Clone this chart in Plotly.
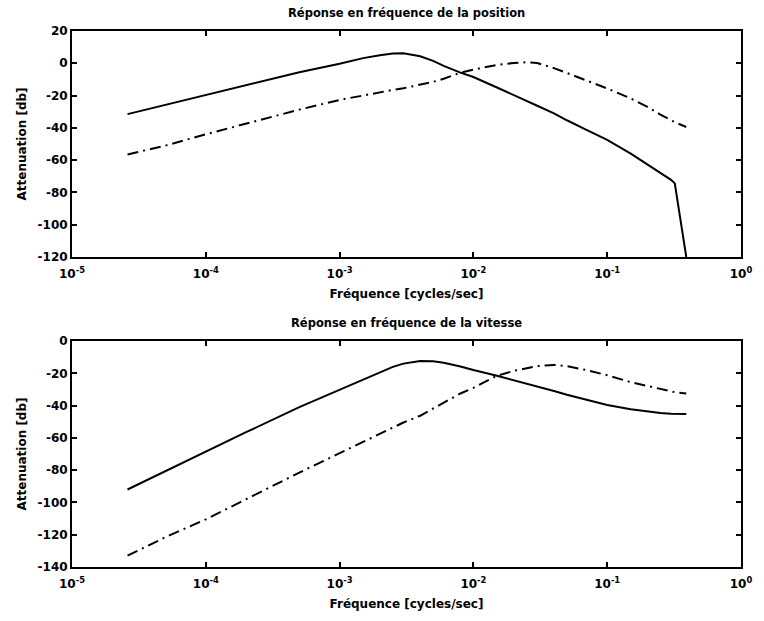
import plotly.graph_objects as go

# Frequencies (cycles/sec) shared by all curves
freq = [2.6e-5, 5e-5, 1e-4, 2e-4, 5e-4, 1e-3, 1.5e-3, 2e-3, 2.5e-3, 3e-3, 4e-3, 5e-3,
        6e-3, 8e-3, 1e-2, 1.5e-2, 2e-2, 2.5e-2, 3e-2, 4e-2, 5e-2, 7e-2, 0.1, 0.15,
        0.2, 0.25, 0.3, 0.32, 0.39]

# Position response (dB)
pos_solid = [-31.5, -25.8, -19.8, -13.8, -5.5, -0.3, 3.2, 5.0, 6.0, 6.2, 4.3, 1.5,
             -1.6, -5.8, -8.5, -15.0, -19.5, -23.2, -26.3, -31.0, -35.3, -41.2, -47.5, -56.0,
             -62.6, -67.8, -72.2, -74.4, -120.0]
pos_dash = [-56.5, -51.0, -44.0, -37.5, -28.7, -22.7, -19.8, -18.0, -16.5, -15.5, -13.5, -11.5,
            -9.6, -5.8, -3.9, -1.0, 0.2, 0.6, 0.2, -3.0, -6.0, -10.5, -15.6, -21.8,
            -27.0, -31.8, -35.5, -36.5, -39.5]

# Velocity response (dB)
vit_solid = [-92.0, -80.5, -68.5, -56.5, -41.0, -30.2, -23.5, -19.3, -16.0, -14.0, -12.4, -12.6,
             -13.5, -15.8, -18.0, -21.5, -24.2, -26.5, -28.0, -31.0, -33.3, -36.5, -39.6, -42.3,
             -43.8, -44.6, -45.0, -45.1, -45.2]
vit_dash = [-133.0, -121.5, -110.5, -98.0, -81.5, -69.5, -62.5, -57.5, -53.5, -50.5, -46.3, -42.0,
            -38.5, -32.5, -29.0, -21.5, -18.5, -16.8, -15.5, -14.8, -15.5, -18.0, -21.2, -25.5,
            -28.0, -30.0, -31.3, -31.7, -32.5]

# Tick labels
x_tickvals = [1e-5, 1e-4, 1e-3, 1e-2, 1e-1, 1e0]
x_ticktext = ["10<sup>-5</sup>", "10<sup>-4</sup>", "10<sup>-3</sup>", "10<sup>-2</sup>",
              "10<sup>-1</sup>", "10<sup>0</sup>"]
y1_tickvals = [20, 0, -20, -40, -60, -80, -100, -120]
y1_ticktext = ["20", "0", "-20", "-40", "-60", "-80", "-100", "-120"]
y2_tickvals = [0, -20, -40, -60, -80, -100, -120, -140]
y2_ticktext = ["0", "-20", "-40", "-60", "-80", "-100", "-120", "-140"]

title1 = "Réponse en fréquence de la position"
title2 = "Réponse en fréquence de la vitesse"
xlabel = "Fréquence [cycles/sec]"
ylabel = "Attenuation [db]"

FONT = "DejaVu Sans, Arial, sans-serif"
DASH = "11px,5px,2px,5px"

def tf(size):
    return dict(family=FONT, size=size, color="black", weight="bold")

fig = go.Figure()
fig.add_trace(go.Scatter(x=freq, y=pos_solid, mode="lines", line=dict(color="black", width=2),
                         xaxis="x", yaxis="y"))
fig.add_trace(go.Scatter(x=freq, y=pos_dash, mode="lines",
                         line=dict(color="black", width=2, dash=DASH), xaxis="x", yaxis="y"))
fig.add_trace(go.Scatter(x=freq, y=vit_solid, mode="lines", line=dict(color="black", width=2),
                         xaxis="x2", yaxis="y2"))
fig.add_trace(go.Scatter(x=freq, y=vit_dash, mode="lines",
                         line=dict(color="black", width=2, dash=DASH), xaxis="x2", yaxis="y2"))

axis_common = dict(showline=True, linecolor="black", linewidth=2, mirror="ticks",
                   ticks="inside", ticklen=5, tickwidth=1.5, tickcolor="black",
                   showgrid=False, zeroline=False, tickfont=tf(12))

xaxis_common = dict(type="log", range=[-5, 0], domain=[0, 1],
                    tickvals=x_tickvals, ticktext=x_ticktext, ticklabelstandoff=5,
                    title=dict(text=xlabel, font=tf(12), standoff=9), **axis_common)

fig.update_layout(
    width=764, height=621,
    margin=dict(l=72, r=13, t=31, b=54),
    paper_bgcolor="white", plot_bgcolor="white",
    showlegend=False,
    xaxis=dict(anchor="y", **xaxis_common),
    yaxis=dict(range=[-120, 20], domain=[0.5784, 1.0], anchor="x",
               tickvals=y1_tickvals, ticktext=y1_ticktext,
               title=dict(text=ylabel, font=tf(12), standoff=8),
               **axis_common),
    xaxis2=dict(anchor="y2", **xaxis_common),
    yaxis2=dict(range=[-140, 0], domain=[0.0, 0.4216], anchor="x2",
                tickvals=y2_tickvals, ticktext=y2_ticktext,
                title=dict(text=ylabel, font=tf(12), standoff=8),
                **axis_common),
    annotations=[
        dict(text=title1, x=0.5, y=1.0, xref="paper", yref="paper", xanchor="center",
             yanchor="bottom", yshift=9, showarrow=False, font=tf(11.5)),
        dict(text=title2, x=0.5, y=0.4216, xref="paper", yref="paper", xanchor="center",
             yanchor="bottom", yshift=9, showarrow=False, font=tf(11.5)),
    ],
)

fig.write_html("out.html")
